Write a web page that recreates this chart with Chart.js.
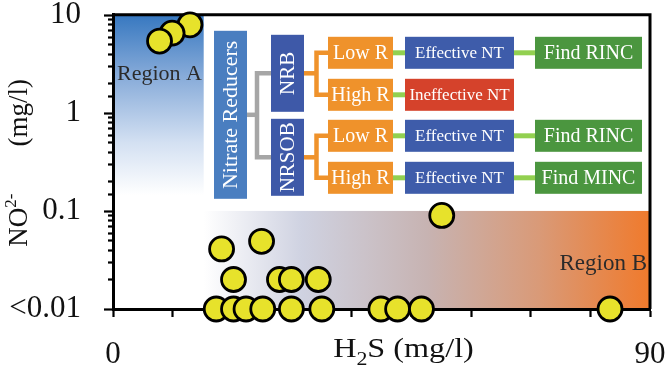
<!DOCTYPE html>
<html>
<head>
<meta charset="utf-8">
<script src="https://cdn.jsdelivr.net/npm/chart.js@4.4.1/dist/chart.umd.min.js"></script>
<style>
html, body { margin: 0; padding: 0; background: #fff; }
canvas { display: block; }
</style>
</head>
<body>
<canvas id="nitriteChart" width="666" height="369"></canvas>
<script>
// H2S (mg/l) vs NO2- (mg/l)
const h2sValues = [17.3, 20.2, 22.3, 25.1, 29.9, 35.0, 44.9, 47.7, 51.7, 83.3,
    20.2, 27.9, 29.9, 34.4, 18.2, 24.9, 55.1, 12.9, 9.9, 7.8];
const no2Values = [0.01, 0.01, 0.01, 0.01, 0.01, 0.01, 0.01, 0.01, 0.01, 0.01,
    0.02, 0.02, 0.02, 0.02, 0.041, 0.049, 0.09, 7.9, 6.5, 5.4];

const xTickLabels = { 0: '0', 90: '90' };
const yTickLabels = { 0.01: '<0.01', 0.1: '0.1', 1: '1', 10: '10' };

const regionA = { label: 'Region A', xMin: 0, xMax: 15.2, yMin: 0.1, yMax: 10 };
const regionB = { label: 'Region B', xMin: 15.2, xMax: 90, yMin: 0.01, yMax: 0.1 };

// inset flow chart
const rootLabel = 'Nitrate Reducers';
const groupLabels = ['NRB', 'NRSOB'];
const rateLabels = ['Low R', 'High R', 'Low R', 'High R'];
const treatmentLabels = ['Effective NT', 'Ineffective NT', 'Effective NT', 'Effective NT'];
const findLabels = ['Find RINC', null, 'Find RINC', 'Find MINC'];

const SERIF = '"Liberation Serif", "Times New Roman", serif';
const COLORS = {
    root: '#4a7ec0',
    group: '#3e59a8',
    rate: '#ef922b',
    good: '#3e5caa',
    bad: '#d5422b',
    find: '#4b963f',
    greenLink: '#92d050',
    grayLink: '#a6a6a6'
};

const points = h2sValues.map((x, i) => ({ x, y: no2Values[i] }));

const box = (ctx, x, y, w, h, fill) => {
    ctx.fillStyle = fill;
    ctx.fillRect(x, y, w, h);
};

const boxText = (ctx, text, x, y, w, h, size, rotate) => {
    ctx.save();
    ctx.fillStyle = '#fff';
    ctx.font = `${size}px ${SERIF}`;
    ctx.textAlign = 'center';
    ctx.textBaseline = 'middle';
    ctx.translate(x + w / 2, y + h / 2 + (rotate ? 0 : 1));
    if (rotate) ctx.rotate(-Math.PI / 2);
    ctx.fillText(text, 0, rotate ? 1 : 0);
    ctx.restore();
};

const line = (ctx, pts, color, width) => {
    ctx.save();
    ctx.strokeStyle = color;
    ctx.lineWidth = width;
    ctx.lineCap = 'butt';
    ctx.lineJoin = 'miter';
    ctx.beginPath();
    pts.forEach(([px, py], i) => i ? ctx.lineTo(px, py) : ctx.moveTo(px, py));
    ctx.stroke();
    ctx.restore();
};

// draws a run of text pieces {t, size, dy}, centred on 0
const richText = (ctx, pieces) => {
    const widths = pieces.map(p => {
        ctx.font = `${p.size}px ${SERIF}`;
        return ctx.measureText(p.t).width;
    });
    const total = widths.reduce((a, b) => a + b, 0);
    let cx = -total / 2;
    pieces.forEach((p, i) => {
        ctx.font = `${p.size}px ${SERIF}`;
        ctx.fillText(p.t, cx, p.dy || 0);
        cx += widths[i];
    });
};

const backdropPlugin = {
    id: 'backdrop',
    beforeDraw(chart) {
        const { ctx, scales: { x, y } } = chart;
        ctx.save();

        const ax = x.getPixelForValue(regionA.xMin);
        const ax2 = x.getPixelForValue(regionA.xMax);
        const ay = y.getPixelForValue(regionA.yMax);
        const ay2 = y.getPixelForValue(regionA.yMin);
        const gA = ctx.createLinearGradient(0, ay, 0, ay2);
        gA.addColorStop(0, '#3778c0');
        gA.addColorStop(0.3, '#84a9d8');
        gA.addColorStop(0.65, '#d3e0f2');
        gA.addColorStop(0.92, '#ffffff');
        ctx.fillStyle = gA;
        ctx.fillRect(ax, ay, ax2 - ax, ay2 - ay);

        const bx = x.getPixelForValue(regionB.xMin);
        const bx2 = x.getPixelForValue(regionB.xMax);
        const by = y.getPixelForValue(regionB.yMax);
        const by2 = y.getPixelForValue(regionB.yMin);
        const gB = ctx.createLinearGradient(bx, 0, bx2, 0);
        gB.addColorStop(0, '#ffffff');
        gB.addColorStop(0.22, '#cfd2e1');
        gB.addColorStop(0.5, '#c7b3b2');
        gB.addColorStop(0.75, '#d99a78');
        gB.addColorStop(1, '#f07a2c');
        ctx.fillStyle = gB;
        ctx.fillRect(bx, by, bx2 - bx, by2 - by);

        ctx.fillStyle = '#2b2b2b';
        ctx.font = `22px ${SERIF}`;
        ctx.textBaseline = 'alphabetic';
        ctx.textAlign = 'left';
        ctx.fillText(regionA.label, ax + 4, ay + 65);
        ctx.font = `23px ${SERIF}`;
        ctx.textAlign = 'right';
        ctx.fillText(regionB.label, bx2 - 3, by2 - 39);
        ctx.restore();
    },
    beforeDatasetsDraw(chart) {
        const { ctx, chartArea: a, scales: { y } } = chart;
        ctx.save();
        // frame on top and right
        line(ctx, [[a.left, a.top], [a.right, a.top], [a.right, a.bottom]], '#000', 3);
        // log ticks on the y axis, long for decades
        ctx.strokeStyle = '#000';
        ctx.lineWidth = 2.2;
        y.ticks.forEach(t => {
            const py = Math.round(y.getPixelForValue(t.value)) + 0.5;
            const len = yTickLabels[t.value] ? 9 : 5;
            ctx.beginPath();
            ctx.moveTo(a.left - len, py);
            ctx.lineTo(a.left, py);
            ctx.stroke();
        });
        ctx.restore();
    },
    afterDatasetsDraw(chart) {
        const { ctx, chartArea: a } = chart;
        const ox = a.left + 101;
        const oy = a.top + 16;
        ctx.save();

        const rowY = [6, 48, 89, 131];
        const rowH = 32;
        const groupY = [4, 88];
        const mid = i => oy + rowY[i] + rowH / 2;
        const gMid = g => oy + groupY[g] + 38.5;

        // gray bracket
        line(ctx, [[ox + 33, oy + 84], [ox + 43, oy + 84]], COLORS.grayLink, 4.5);
        line(ctx, [[ox + 57, gMid(0)], [ox + 43, gMid(0)], [ox + 43, gMid(1)], [ox + 57, gMid(1)]], COLORS.grayLink, 4.5);
        // orange brackets
        [0, 1].forEach(g => {
            const r1 = g * 2, r2 = g * 2 + 1;
            line(ctx, [[ox + 90, gMid(g)], [ox + 102.5, gMid(g)]], COLORS.rate, 4.5);
            line(ctx, [[ox + 114, mid(r1)], [ox + 102.5, mid(r1)], [ox + 102.5, mid(r2)], [ox + 114, mid(r2)]], COLORS.rate, 4.5);
        });
        // green links
        rateLabels.forEach((_, i) => {
            line(ctx, [[ox + 179, mid(i)], [ox + 191, mid(i)]], COLORS.greenLink, 5);
            if (findLabels[i]) line(ctx, [[ox + 300, mid(i)], [ox + 321, mid(i)]], COLORS.greenLink, 5);
        });

        box(ctx, ox, oy, 33, 168, COLORS.root);
        boxText(ctx, rootLabel, ox, oy, 33, 168, 22, true);
        groupLabels.forEach((lbl, g) => {
            box(ctx, ox + 57, oy + groupY[g], 33, 77, COLORS.group);
            boxText(ctx, lbl, ox + 57, oy + groupY[g], 33, 77, 21, true);
        });
        rateLabels.forEach((lbl, i) => {
            const ry = oy + rowY[i];
            box(ctx, ox + 114, ry, 65, rowH, COLORS.rate);
            boxText(ctx, lbl, ox + 114, ry, 65, rowH, 20, false);
            const bad = treatmentLabels[i].startsWith('Ineffective');
            box(ctx, ox + 191, ry, 109, rowH, bad ? COLORS.bad : COLORS.good);
            boxText(ctx, treatmentLabels[i], ox + 191, ry, 109, rowH, 17, false);
            if (findLabels[i]) {
                box(ctx, ox + 321, ry, 107, rowH, COLORS.find);
                boxText(ctx, findLabels[i], ox + 321, ry, 107, rowH, 20, false);
            }
        });
        ctx.restore();
    },
    afterDraw(chart) {
        const { ctx, chartArea: a } = chart;
        ctx.save();
        ctx.fillStyle = '#111';
        ctx.textAlign = 'left';
        ctx.textBaseline = 'alphabetic';
        // x title, a little wide like the source figure
        ctx.translate((a.left + a.right) / 2 + 22, 357);
        ctx.scale(1.15, 1);
        richText(ctx, [
            { t: 'H', size: 28 },
            { t: '2', size: 19, dy: 8 },
            { t: 'S (mg/l)', size: 28 }
        ]);
        ctx.restore();

        ctx.save();
        ctx.fillStyle = '#111';
        ctx.textAlign = 'left';
        ctx.textBaseline = 'alphabetic';
        ctx.translate(27, (a.top + a.bottom) / 2 + 1);
        ctx.rotate(-Math.PI / 2);
        richText(ctx, [
            { t: 'NO', size: 27 },
            { t: '2-', size: 17, dy: -11 },
            { t: '       (mg/l)', size: 27 }
        ]);
        ctx.restore();
    }
};

new Chart(document.getElementById('nitriteChart'), {
    type: 'scatter',
    data: {
        datasets: [{
            label: 'Samples',
            data: points,
            backgroundColor: '#e7e22b',
            borderColor: '#000',
            borderWidth: 2.8,
            pointRadius: 12,
            pointHoverRadius: 12,
            clip: false
        }]
    },
    options: {
        responsive: false,
        animation: false,
        layout: { padding: { top: 9, right: 16, left: 0, bottom: 0 } },
        plugins: {
            legend: { display: false },
            tooltip: { enabled: false }
        },
        scales: {
            x: {
                type: 'linear',
                min: 0,
                max: 90,
                border: { display: true, color: '#000', width: 3 },
                grid: {
                    display: true,
                    drawOnChartArea: false,
                    drawTicks: true,
                    tickLength: 8,
                    tickWidth: 2.2,
                    tickColor: '#000'
                },
                ticks: {
                    stepSize: 10,
                    autoSkip: false,
                    maxRotation: 0,
                    padding: 19,
                    color: '#111',
                    font: { family: SERIF, size: 31 },
                    callback: (value) => xTickLabels[value] ?? ''
                },
                afterFit: (s) => {
                    s.height = 60;
                    s.paddingLeft = 0;
                    s.paddingRight = 0;
                }
            },
            y: {
                type: 'logarithmic',
                min: 0.01,
                max: 10,
                border: { display: true, color: '#000', width: 3 },
                grid: { display: false, drawTicks: false },
                ticks: {
                    autoSkip: false,
                    padding: 32,
                    color: '#111',
                    font: { family: SERIF, size: 31 },
                    callback: (value) => yTickLabels[value] ?? ''
                },
                afterFit: (s) => {
                    s.width = 113;
                    s.paddingTop = 0;
                    s.paddingBottom = 0;
                }
            }
        }
    },
    plugins: [backdropPlugin]
});
</script>
</body>
</html>
